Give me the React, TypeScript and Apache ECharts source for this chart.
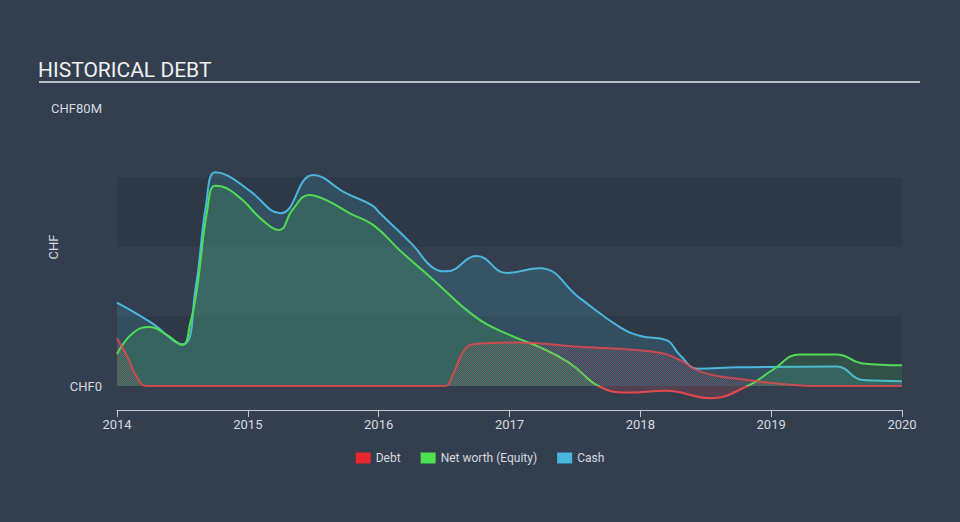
import React, { useEffect, useRef } from "react";
import * as echarts from "echarts";

const title = "HISTORICAL DEBT";
const legendNames = ["Debt", "Net worth (Equity)", "Cash"];
const xTicks = [2014, 2015, 2016, 2017, 2018, 2019, 2020];
const yMax = 80;
const yStep = 20;

// [year, CHF millions]
const cash: number[][] = [
  [2014.0, 24.0], [2014.25, 18.5], [2014.5, 12.0], [2014.6, 28.0], [2014.68, 52.0],
  [2014.75, 61.5], [2014.85, 60.5], [2015.02, 56.0], [2015.25, 49.7], [2015.5, 60.7],
  [2015.75, 55.5], [2015.95, 52.0], [2016.01, 49.7], [2016.26, 40.6], [2016.42, 33.9],
  [2016.52, 33.0], [2016.75, 37.4], [2016.98, 32.5], [2017.23, 33.9], [2017.54, 25.2],
  [2017.84, 17.0], [2018.0, 14.4], [2018.2, 13.2], [2018.3, 9.0], [2018.44, 5.0],
  [2018.75, 5.4], [2019.5, 5.6], [2019.7, 1.7], [2020.0, 1.4],
];

const equity: number[][] = [
  [2014.0, 9.2], [2014.12, 15.2], [2014.25, 17.0], [2014.38, 14.7], [2014.5, 11.8],
  [2014.56, 18.1], [2014.61, 27.6], [2014.69, 50.6], [2014.75, 57.6], [2014.84, 56.9],
  [2014.96, 53.5], [2015.11, 47.8], [2015.24, 44.9], [2015.34, 50.6], [2015.47, 55.0],
  [2015.6, 53.5], [2015.78, 49.7], [2015.96, 46.3], [2016.16, 39.1], [2016.41, 30.8],
  [2016.75, 19.6], [2017.0, 14.7], [2017.23, 11.2], [2017.46, 6.6], [2017.68, 0.0],
  [2017.9, -1.9], [2018.2, -1.4], [2018.53, -3.5], [2018.82, 0.0], [2019.01, 4.6],
  [2019.22, 9.1], [2019.5, 9.1], [2019.7, 6.5], [2020.0, 6.0],
];

const debt: number[][] = [
  [2014.0, 13.7], [2014.08, 8.4], [2014.15, 2.7], [2014.23, 0.0], [2016.5, 0.0],
  [2016.57, 3.5], [2016.64, 9.5], [2016.72, 12.0], [2017.03, 12.5], [2017.54, 11.3],
  [2018.15, 9.6], [2018.3, 7.5], [2018.47, 4.0], [2018.82, 1.7], [2019.2, 0.2],
  [2019.3, 0.0], [2020.0, 0.0],
];

const RED = "#e5474c";
const GREEN = "#4fdc54";
const BLUE = "#4bb7de";
const BG = "#333f4f";
const BAND = "#2d3947";
const TEXT = "#d6dae0";
const FONT = "Roboto, 'Noto Sans', sans-serif";

const W = 960;
const H = 522;
const GRID = { left: 117, right: 58, top: 108, bottom: 136 };
const SMOOTH = 0.45;

function makeHatch(): HTMLCanvasElement {
  const c = document.createElement("canvas");
  c.width = 4;
  c.height = 4;
  const ctx = c.getContext("2d")!;
  ctx.clearRect(0, 0, 4, 4);
  for (let i = 0; i < 4; i++) {
    ctx.fillStyle = "rgba(230,75,85,0.42)";
    ctx.fillRect(i, i, 1, 1);
    ctx.fillStyle = "rgba(210,205,210,0.16)";
    ctx.fillRect(i, (i + 2) % 4, 1, 1);
  }
  return c;
}

// vertical split colour at the zero line (grid bottom, since y min is 0)
function signGradient(pos: string, neg: string) {
  const z = (H - GRID.bottom) / H;
  return {
    type: "linear",
    x: 0,
    y: 0,
    x2: 0,
    y2: H,
    global: true,
    colorStops: [
      { offset: 0, color: pos },
      { offset: z, color: pos },
      { offset: z, color: neg },
      { offset: 1, color: neg },
    ],
  };
}

export default function App() {
  const ref = useRef<HTMLDivElement>(null);
  useEffect(() => {
    if (!ref.current) return;
    const chart = echarts.init(ref.current, undefined, { renderer: "svg" });
    const hatch = makeHatch();
    chart.setOption({
      animation: false,
      backgroundColor: BG,
      textStyle: { fontFamily: FONT },
      title: {
        text: title,
        left: 33,
        top: 54,
        textStyle: { color: "#eef0f3", fontSize: 21, fontWeight: "normal", fontFamily: FONT },
      },
      graphic: [
        {
          type: "rect",
          left: 39,
          top: 81,
          shape: { width: 881, height: 2 },
          style: { fill: "#b9bec6" },
          silent: true,
        },
      ],
      legend: {
        bottom: 53,
        left: "center",
        icon: "rect",
        itemWidth: 15,
        itemHeight: 11,
        itemGap: 20,
        textStyle: { color: TEXT, fontSize: 12, fontFamily: FONT },
        data: [
          { name: legendNames[0], itemStyle: { color: "#e8282e" } },
          { name: legendNames[1], itemStyle: { color: "#4fe04f" } },
          { name: legendNames[2], itemStyle: { color: "#4ab6de" } },
        ],
      },
      grid: GRID,
      xAxis: {
        type: "value",
        min: xTicks[0],
        max: xTicks[xTicks.length - 1],
        interval: 1,
        offset: 24,
        axisLine: { onZero: false, lineStyle: { color: "#c3c8cf", width: 1 } },
        axisTick: { show: true, length: 7, lineStyle: { color: "#c3c8cf" } },
        axisLabel: { color: TEXT, fontSize: 13, margin: 8, formatter: (v: number) => String(v) },
        splitLine: { show: false },
      },
      yAxis: {
        type: "value",
        min: 0,
        max: yMax,
        interval: yStep,
        name: "CHF",
        nameLocation: "middle",
        nameGap: 57,
        nameMoveOverlap: false,
        nameTextStyle: { color: TEXT, fontSize: 13 },
        axisLine: { show: false, onZero: false },
        axisTick: { show: false },
        axisLabel: {
          color: TEXT,
          fontSize: 13,
          margin: 15,
          formatter: (v: number) => (v === 0 ? "CHF0" : v === yMax ? "CHF80M" : ""),
        },
        splitLine: { show: false },
        splitArea: { show: true, areaStyle: { color: [BAND, "rgba(0,0,0,0)"] } },
      },
      series: [
        {
          name: legendNames[2],
          type: "line",
          data: cash,
          smooth: SMOOTH,
          showSymbol: false,
          color: BLUE,
          lineStyle: { color: BLUE, width: 2 },
          areaStyle: { color: "rgba(75,183,222,0.24)" },
          z: 2,
        },
        {
          name: legendNames[1],
          type: "line",
          data: equity,
          smooth: SMOOTH,
          showSymbol: false,
          clip: false,
          color: GREEN,
          lineStyle: { width: 2, color: signGradient(GREEN, RED) },
          areaStyle: {
            color: signGradient("rgba(79,220,84,0.22)", "rgba(229,71,76,0.25)"),
          },
          z: 3,
        },
        {
          name: legendNames[0],
          type: "line",
          data: debt,
          smooth: SMOOTH,
          showSymbol: false,
          color: RED,
          lineStyle: { color: RED, width: 2, opacity: 0.85 },
          areaStyle: {
            color: { image: hatch, repeat: "repeat", imageWidth: 4, imageHeight: 4 } as any,
            opacity: 1,
          },
          z: 4,
        },
      ],
    });
    return () => chart.dispose();
  }, []);
  return (
    <div
      ref={ref}
      style={{ position: "fixed", left: 0, top: 0, width: W, height: H }}
    />
  );
}
